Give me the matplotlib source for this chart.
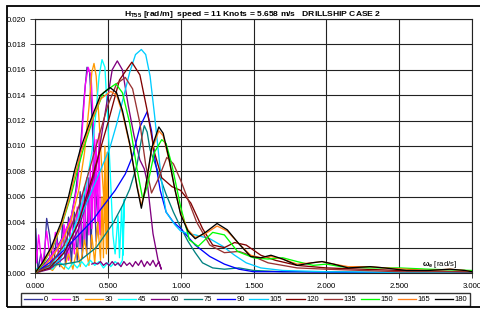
import numpy as np
import matplotlib
matplotlib.use('Agg')
import matplotlib.pyplot as plt
from matplotlib.patches import Rectangle
from matplotlib.ticker import FormatStrFormatter

plt.rcParams['font.family'] = ['Liberation Sans', 'DejaVu Sans']
plt.rcParams['mathtext.fontset'] = 'custom'
plt.rcParams['mathtext.rm'] = 'Liberation Sans'
plt.rcParams['mathtext.it'] = 'Liberation Sans:italic'
plt.rcParams['mathtext.bf'] = 'Liberation Sans:bold'

headings = ['0', '15', '30', '45', '60', '75', '90', '105', '120', '135', '150', '165', '180']
colors = ['#333399', '#FF00FF', '#FF9900', '#00FFFF', '#800080', '#008080', '#0000FF',
          '#00CCFF', '#800000', '#993333', '#00FF00', '#FF7F1A', '#000000']

x_0 = [0, 0.05, 0.1, 0.15, 0.2, 0.25, 0.28, 0.31, 0.335, 0.357, 0.375, 0.39, 0.41, 0.433,
       0.42, 0.40, 0.385, 0.37, 0.355, 0.34, 0.325, 0.31, 0.29, 0.27, 0.25, 0.23, 0.21, 0.19,
       0.17, 0.15, 0.125, 0.1, 0.08, 0.06, 0.04, 0.02, 0.005, 0.0]
y_0 = [0, 0.0005, 0.0012, 0.002, 0.003, 0.0045, 0.0065, 0.0095, 0.0135, 0.0162, 0.0158, 0.0125, 0.0075, 0.004,
       0.0025, 0.0085, 0.002, 0.0075, 0.0015, 0.0068, 0.0012, 0.0064, 0.001, 0.0048, 0.0008, 0.0044, 0.0006, 0.0040,
       0.0005, 0.0030, 0.0004, 0.0030, 0.0043, 0.0004, 0.0015, 0.0002, 0.0035, 0.0]

x_15 = [0, 0.05, 0.1, 0.15, 0.2, 0.25, 0.29, 0.32, 0.345, 0.365, 0.385, 0.4, 0.42, 0.44, 0.449,
        0.44, 0.43, 0.42, 0.41, 0.40, 0.39, 0.38, 0.37, 0.355, 0.34, 0.325, 0.31, 0.29, 0.27, 0.25,
        0.23, 0.2, 0.17, 0.14, 0.11, 0.08, 0.05, 0.025, 0.01, 0.0]
y_15 = [0, 0.0004, 0.0011, 0.0019, 0.003, 0.0045, 0.0068, 0.0105, 0.0148, 0.0162, 0.0155, 0.012, 0.0075, 0.0045, 0.003,
        0.011, 0.004, 0.0105, 0.004, 0.0095, 0.0035, 0.0085, 0.003, 0.0075, 0.0025, 0.0062, 0.002, 0.0052, 0.0015, 0.0045,
        0.001, 0.0038, 0.0008, 0.0032, 0.0006, 0.0033, 0.0004, 0.003, 0.0008, 0.0025]

x_30 = [0, 0.05, 0.1, 0.15, 0.2, 0.25, 0.3, 0.34, 0.37, 0.39, 0.405, 0.42, 0.44, 0.46, 0.48, 0.50,
        0.495, 0.49, 0.48, 0.47, 0.46, 0.45, 0.43, 0.41, 0.39, 0.37, 0.34, 0.31, 0.29, 0.26, 0.23,
        0.2, 0.16, 0.12, 0.08, 0.04, 0.0]
y_30 = [0, 0.0003, 0.001, 0.0018, 0.0028, 0.0042, 0.0065, 0.0095, 0.013, 0.0158, 0.0165, 0.0155, 0.012, 0.008, 0.0045, 0.002,
        0.0095, 0.0015, 0.01, 0.0012, 0.006, 0.001, 0.004, 0.0008, 0.003, 0.0006, 0.0026, 0.0005, 0.002, 0.0003, 0.0015,
        0.0003, 0.0008, 0.0002, 0.0005, 0.0001, 0.0003]

x_45 = [0, 0.05, 0.1, 0.15, 0.2, 0.25, 0.3, 0.35, 0.39, 0.42, 0.44, 0.46, 0.48, 0.5, 0.52, 0.535,
        0.55, 0.57, 0.58, 0.595, 0.605, 0.613,
        0.6, 0.58, 0.55, 0.52, 0.5, 0.47, 0.44, 0.41, 0.38, 0.35, 0.32, 0.29, 0.26, 0.23, 0.2,
        0.16, 0.12, 0.08, 0.04, 0.0]
y_45 = [0, 0.0002, 0.0006, 0.0012, 0.002, 0.003, 0.0045, 0.0068, 0.0095, 0.0128, 0.0155, 0.0168, 0.0162, 0.012, 0.007, 0.003,
        0.0015, 0.0045, 0.0012, 0.0052, 0.0014, 0.0058,
        0.001, 0.0006, 0.0009, 0.0005, 0.0008, 0.0004, 0.0009, 0.0006, 0.001, 0.0005, 0.0009, 0.0004, 0.0008, 0.0003, 0.0006,
        0.0009, 0.0003, 0.0005, 0.0002, 0.0004]

x_60 = [0, 0.1, 0.2, 0.3, 0.35, 0.4, 0.43, 0.48, 0.53, 0.565, 0.6, 0.64, 0.68, 0.72, 0.75, 0.77,
        0.81, 0.845, 0.867,
        0.85, 0.83, 0.81, 0.79, 0.77, 0.75, 0.73, 0.71, 0.69, 0.67, 0.65, 0.63, 0.61, 0.59, 0.57,
        0.55, 0.53, 0.51, 0.49, 0.47, 0.45, 0.43, 0.41, 0.39]
y_60 = [0, 0.0003, 0.0012, 0.0035, 0.0055, 0.0075, 0.0089, 0.0125, 0.016, 0.0167, 0.016, 0.0132, 0.0108, 0.0089, 0.0082, 0.0072,
        0.0031, 0.001, 0.0003,
        0.0009, 0.0005, 0.001, 0.0006, 0.0009, 0.0005, 0.0010, 0.0006, 0.0009, 0.0005, 0.0008, 0.0006, 0.0009, 0.0005, 0.0008,
        0.0006, 0.0009, 0.0006, 0.0008, 0.0006, 0.0009, 0.0007, 0.0008, 0.0007]

x_75 = [0, 0.05, 0.1, 0.2, 0.3, 0.42, 0.535, 0.6, 0.65, 0.7, 0.73, 0.75, 0.77, 0.79, 0.85, 0.9,
        0.95, 1.0, 1.05, 1.1, 1.15, 1.22, 1.3, 1.4, 1.5, 1.7, 2.0, 2.5, 3.0]
y_75 = [0, 0.0004, 0.0006, 0.0007, 0.0009, 0.002, 0.0039, 0.0053, 0.0066, 0.0085, 0.0105, 0.0116, 0.0111, 0.0097, 0.0078, 0.0062,
        0.0048, 0.0036, 0.0025, 0.0016, 0.0008, 0.0004, 0.0003, 0.0004, 0.0002, 0.0001, 0.0001, 0.0, 0.0]

x_90 = [0, 0.1, 0.2, 0.3, 0.4, 0.45, 0.55, 0.62, 0.67, 0.72, 0.77, 0.8, 0.82, 0.86, 0.9, 0.95,
        1.0, 1.1, 1.2, 1.3, 1.4, 1.5, 1.8, 2.5, 3.0]
y_90 = [0, 0.0008, 0.0018, 0.003, 0.0042, 0.005, 0.0065, 0.0078, 0.0092, 0.0115, 0.0127, 0.0112, 0.0092, 0.0065, 0.0048, 0.004,
        0.0035, 0.0022, 0.0013, 0.0007, 0.0003, 0.0001, 0.0001, 0.0, 0.0]

x_105 = [0, 0.05, 0.1, 0.17, 0.25, 0.3, 0.38, 0.45, 0.515, 0.56, 0.6, 0.65, 0.69, 0.73, 0.76, 0.79,
         0.82, 0.85, 0.88, 0.9, 0.96, 1.0, 1.05, 1.1, 1.2, 1.29, 1.37, 1.45, 1.55, 1.7, 2.0, 3.0]
y_105 = [0, 0.0002, 0.0005, 0.001, 0.0028, 0.004, 0.0062, 0.0081, 0.0099, 0.0117, 0.0135, 0.0158, 0.0172, 0.0176, 0.0172, 0.0155,
         0.0125, 0.0092, 0.0062, 0.0048, 0.0038, 0.0033, 0.0031, 0.003, 0.0027, 0.0021, 0.0014, 0.0008, 0.0004, 0.0002, 0.0001, 0.0]

x_120 = [0, 0.1, 0.2, 0.3, 0.4, 0.5, 0.58, 0.665, 0.72, 0.77, 0.82, 0.87, 0.94, 1.0, 1.07, 1.15,
         1.22, 1.3, 1.37, 1.45, 1.55, 1.65, 1.8, 2.0, 2.5, 3.0]
y_120 = [0, 0.0004, 0.0016, 0.004, 0.0078, 0.0118, 0.0152, 0.0166, 0.0156, 0.0128, 0.0095, 0.0075, 0.0068, 0.0065, 0.0055, 0.0035,
         0.0022, 0.002, 0.0024, 0.0022, 0.0014, 0.001, 0.0006, 0.0004, 0.0002, 0.0001]

x_135 = [0, 0.1, 0.2, 0.3, 0.4, 0.5, 0.56, 0.62, 0.67, 0.72, 0.76, 0.8, 0.85, 0.905, 0.95, 1.0,
         1.05, 1.11, 1.2, 1.3, 1.4, 1.5, 1.6, 1.8, 2.0, 2.5, 3.0]
y_135 = [0, 0.0006, 0.0022, 0.0052, 0.0092, 0.0132, 0.0149, 0.0154, 0.0145, 0.0118, 0.0085, 0.0063, 0.0075, 0.0091, 0.0086, 0.0073,
         0.0058, 0.004, 0.0022, 0.0016, 0.0017, 0.0013, 0.0008, 0.0004, 0.0003, 0.0001, 0.0001]

x_150 = [0, 0.05, 0.12, 0.19, 0.245, 0.29, 0.33, 0.4, 0.47, 0.555, 0.6, 0.65, 0.7, 0.74, 0.77, 0.82,
         0.87, 0.9, 0.94, 1.0, 1.06, 1.12, 1.22, 1.3, 1.39, 1.5, 1.6, 1.7, 1.8, 1.91, 2.0, 2.1, 2.3,
         2.5, 2.7, 3.0]
y_150 = [0, 0.0006, 0.002, 0.004, 0.006, 0.008, 0.0097, 0.0122, 0.0142, 0.0149, 0.0142, 0.0118, 0.0082, 0.0058, 0.0068, 0.0095,
         0.0105, 0.0102, 0.0085, 0.0052, 0.0026, 0.0021, 0.0032, 0.003, 0.0017, 0.0012, 0.0011, 0.0012, 0.0009, 0.0006, 0.0007,
         0.0005, 0.0004, 0.0004, 0.0003, 0.0002]

x_165 = [0, 0.05, 0.11, 0.18, 0.23, 0.27, 0.31, 0.38, 0.45, 0.52, 0.56, 0.6, 0.65, 0.7, 0.73, 0.76,
         0.8, 0.85, 0.88, 0.92, 0.96, 1.0, 1.05, 1.1, 1.17, 1.25, 1.32, 1.4, 1.48, 1.55, 1.62, 1.7,
         1.8, 1.9, 1.97, 2.05, 2.15, 2.3, 2.4, 2.55, 2.7, 2.85, 2.95, 3.0]
y_165 = [0, 0.0007, 0.0018, 0.0037, 0.0056, 0.0075, 0.0093, 0.0117, 0.0137, 0.0143, 0.014, 0.0126, 0.0101, 0.0069, 0.0053, 0.0068,
         0.0096, 0.0112, 0.0108, 0.0089, 0.0066, 0.0047, 0.0034, 0.0028, 0.0031, 0.0037, 0.0033, 0.0023, 0.0014, 0.0012, 0.0013, 0.0011,
         0.0007, 0.0008, 0.0009, 0.0007, 0.0005, 0.0005, 0.0004, 0.0003, 0.0002, 0.0003, 0.0002, 0.0001]

x_180 = [0, 0.05, 0.11, 0.18, 0.23, 0.27, 0.31, 0.38, 0.45, 0.515, 0.56, 0.6, 0.65, 0.7, 0.73, 0.76,
         0.8, 0.85, 0.88, 0.92, 0.96, 1.0, 1.05, 1.1, 1.17, 1.25, 1.32, 1.4, 1.48, 1.55, 1.62, 1.7,
         1.8, 1.9, 1.97, 2.05, 2.15, 2.3, 2.4, 2.55, 2.7, 2.85, 2.95, 3.0]
y_180 = [0, 0.0008, 0.002, 0.004, 0.006, 0.008, 0.0097, 0.012, 0.014, 0.0146, 0.0142, 0.0128, 0.0102, 0.0068, 0.0051, 0.0068,
         0.0098, 0.0115, 0.011, 0.009, 0.0066, 0.0046, 0.0033, 0.0027, 0.0032, 0.0039, 0.0034, 0.0023, 0.0013, 0.0012, 0.0014, 0.0011,
         0.0006, 0.0008, 0.0009, 0.0007, 0.0004, 0.0005, 0.0004, 0.0002, 0.0002, 0.0003, 0.0002, 0.0001]

xs = [x_0, x_15, x_30, x_45, x_60, x_75, x_90, x_105, x_120, x_135, x_150, x_165, x_180]
ys = [y_0, y_15, y_30, y_45, y_60, y_75, y_90, y_105, y_120, y_135, y_150, y_165, y_180]

W, H = 480, 309
fig = plt.figure(figsize=(W / 100, H / 100), dpi=100)
fig.patch.set_facecolor('white')
ax = fig.add_axes([35 / W, 1 - 273 / H, (472 - 35) / W, (273 - 19) / H])

for x, y, c, h in zip(xs, ys, colors, headings):
    ax.plot(x, y, color=c, lw=0.95, label=h)

ax.set_xlim(0, 3.0)
ax.set_ylim(0, 0.020)
ax.set_xticks(np.linspace(0, 3.0, 7))
ax.set_yticks(np.linspace(0, 0.020, 11))
ax.xaxis.set_major_formatter(FormatStrFormatter('%.3f'))
ax.yaxis.set_major_formatter(FormatStrFormatter('%.3f'))
ax.grid(True, color='#222222', lw=0.8)
ax.set_axisbelow(True)
for s in ax.spines.values():
    s.set_color('#222222')
    s.set_linewidth(0.8)
ax.tick_params(axis='both', labelsize=5.6, length=3.5, width=0.6, color='#222222')
ax.tick_params(axis='y', pad=3)
ax.tick_params(axis='x', pad=3.7)

fig.text(253 / W, 1 - 14 / H,
         r'$\mathbf{H_{T55}}$ [rad/m]  speed = 11 Knots = 5.658 m/s   DRILLSHIP CASE 2',
         fontsize=6.1, fontweight='bold', ha='center', va='center')

ax.text(2.655, 0.0002, r'$\mathbf{\omega_e}$ [rad/s]', fontsize=5.6, ha='left', va='bottom')

leg = ax.legend(loc='center', bbox_to_anchor=(245.5 / W, 1 - 299.5 / H), bbox_transform=fig.transFigure,
                ncol=13, fontsize=5.5, frameon=True, fancybox=False, edgecolor='black',
                handlelength=2.4, handletextpad=0.2, columnspacing=0.6, borderpad=0.35,
                borderaxespad=0)
leg.get_frame().set_linewidth(1.0)

fig.add_artist(Rectangle((7 / W, 1 - 307 / H), (490 - 7) / W, (307 - 6) / H,
                         transform=fig.transFigure, fill=False, lw=1.3, ec='black'))

fig.savefig('out.png', dpi=100)
